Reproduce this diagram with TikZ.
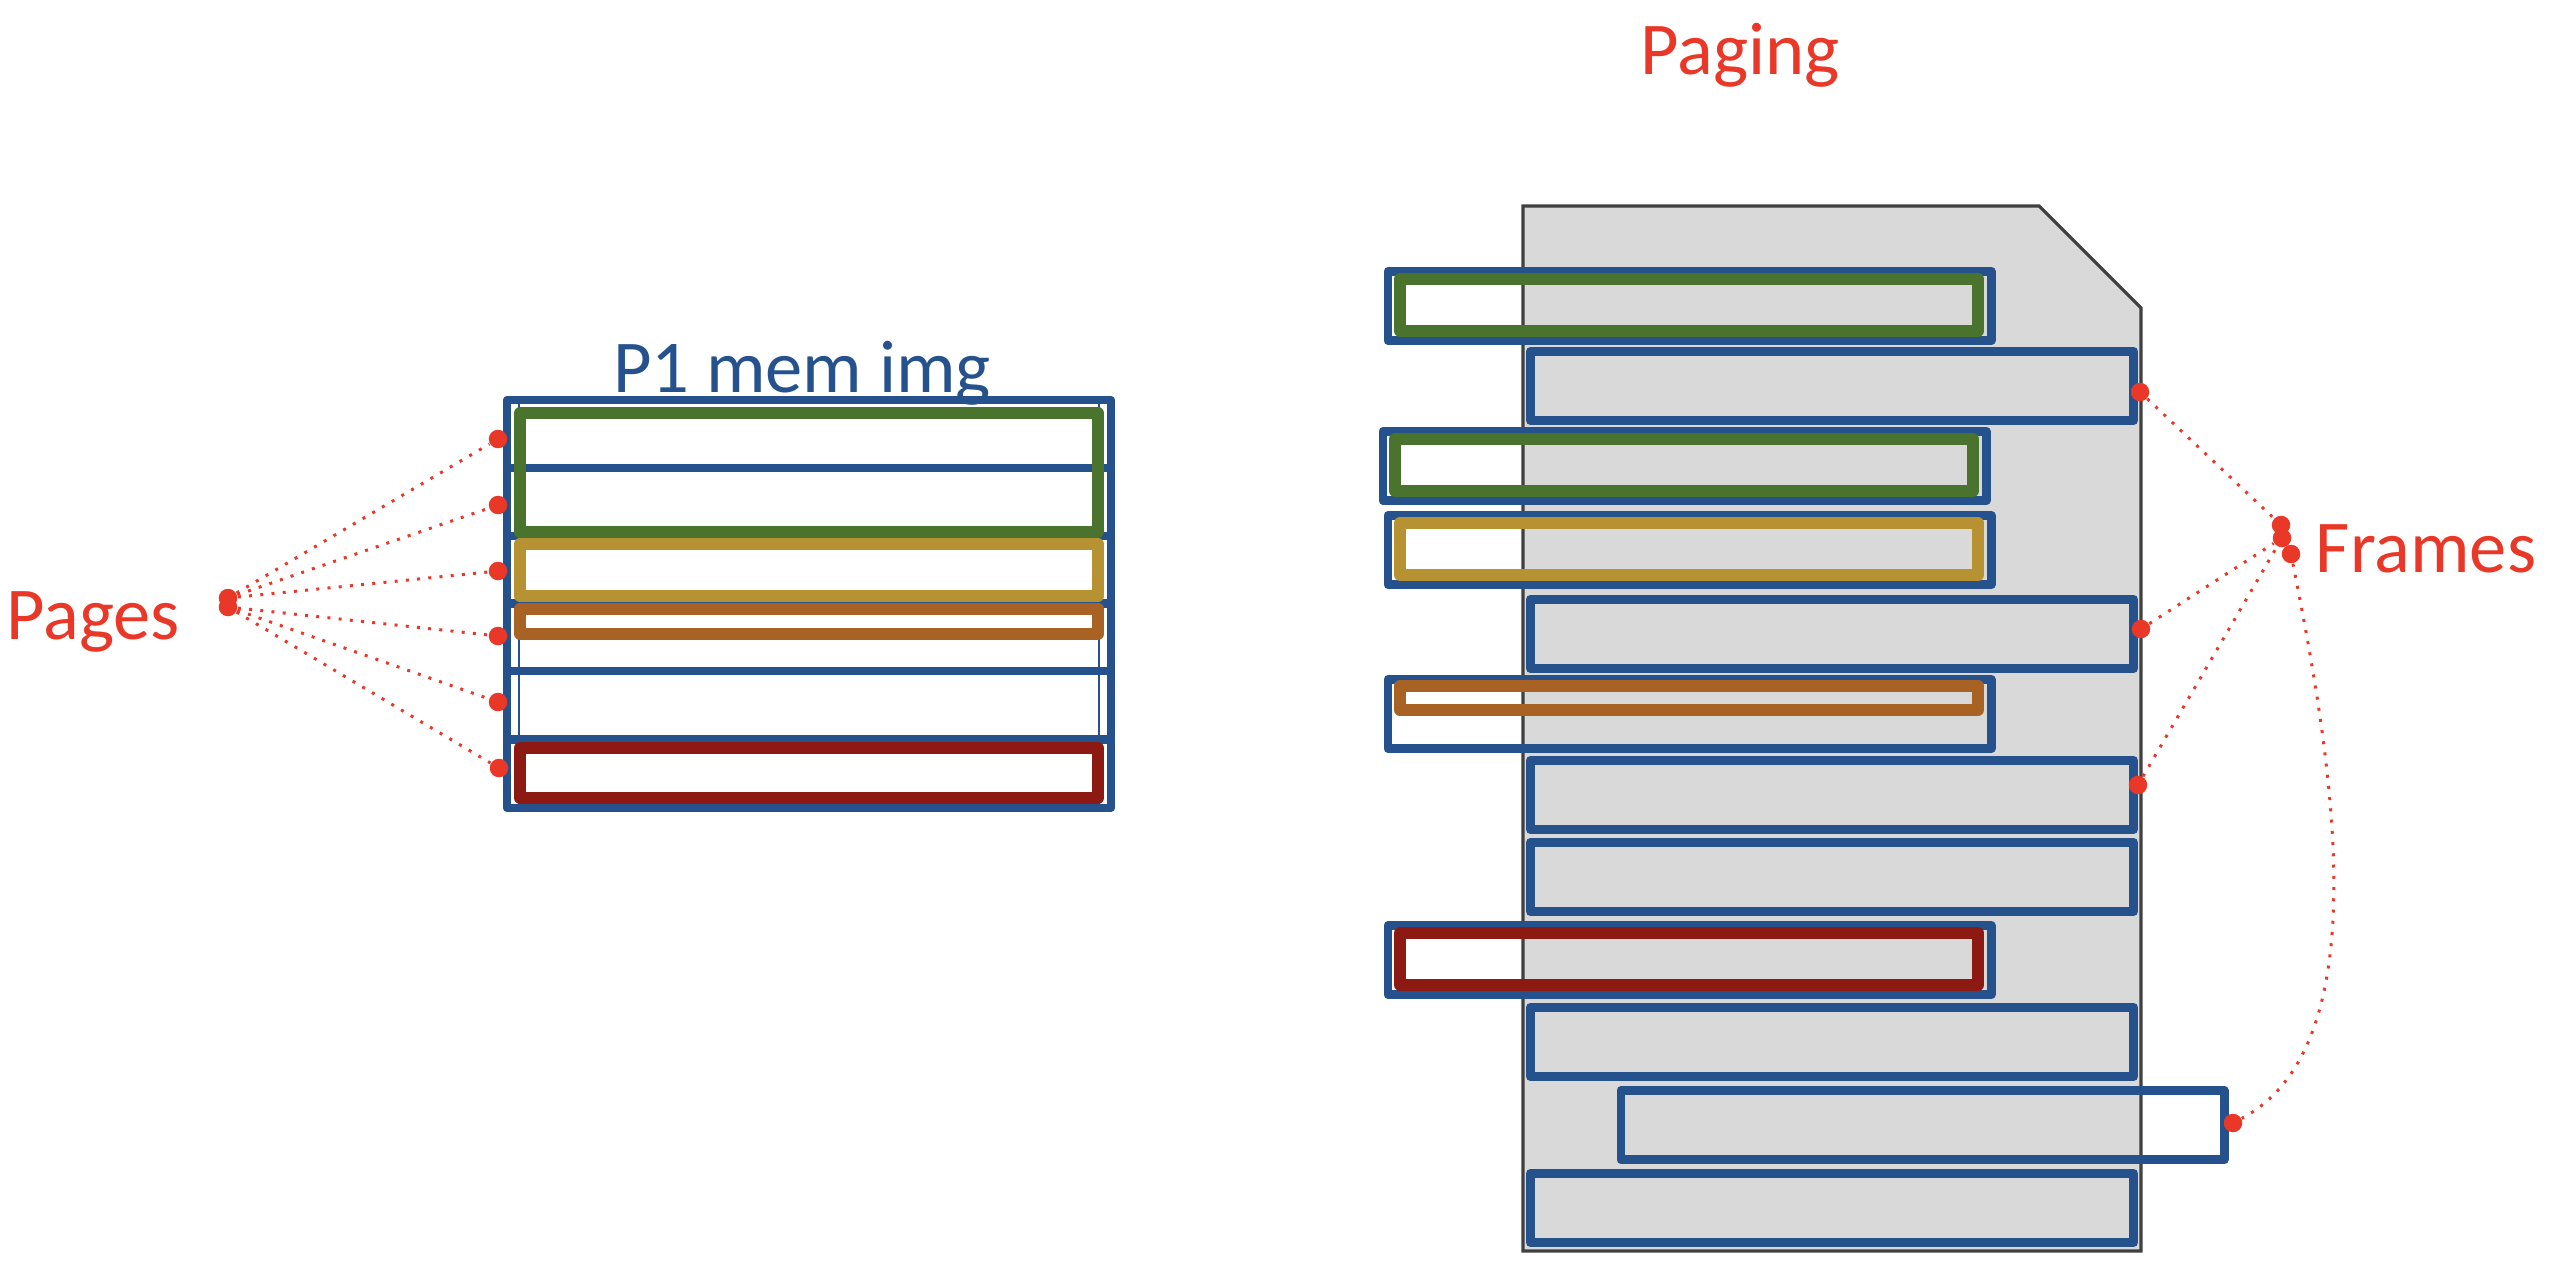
\documentclass[tikz,border=0pt]{standalone}
\usepackage{fontspec}
\setmainfont{Carlito}
\usepackage{tikz}

\definecolor{memblue}{RGB}{37,82,141}
\definecolor{pggreen}{RGB}{74,116,45}
\definecolor{pggold}{RGB}{183,146,50}
\definecolor{pgbrown}{RGB}{168,98,36}
\definecolor{pgred}{RGB}{140,26,19}
\definecolor{lblred}{RGB}{233,56,40}
\definecolor{diskgray}{RGB}{217,217,217}
\definecolor{diskedge}{RGB}{64,64,64}

\begin{document}
\begin{tikzpicture}[x=0.01cm,y=-0.01cm,
                    framebox/.style={draw=memblue,line width=2.45pt,line join=round,inner sep=0pt,
                                     minimum width=6.03cm,minimum height=0.695cm},
                    rowbox/.style={draw=memblue,line width=2.3pt,line join=round,inner sep=0pt,
                                   minimum width=6.04cm,minimum height=0.68cm},
                    pagebox/.style={line width=3.25pt,line join=round,inner sep=0pt,
                                    minimum width=5.78cm,minimum height=0.52cm},
                    reddot/.style={circle,fill=lblred,inner sep=0pt,minimum size=0.185cm},
                    dotlink/.style={draw=lblred,line width=0.85pt,dash pattern=on 0.85pt off 2.35pt},
                    lbl/.style={font=\fontsize{21.2}{25}\selectfont,inner sep=0pt}]

  \useasboundingbox (0,0) rectangle (2554,1260);

  \draw[fill=diskgray,draw=diskedge,line width=0.9pt]
    (1523,206) -- (2039,206) -- (2141,308) -- (2141,1251) -- (1523,1251) -- cycle;

  \node[framebox] (f1) at (1689.5,306) {};
  \node[framebox] (f2) at (1832,386) {};
  \node[framebox] (f3) at (1684.5,466) {};
  \node[framebox] (f4) at (1689.5,550) {};
  \node[framebox] (f5) at (1832,634) {};
  \node[framebox] (f6) at (1689.5,714) {};
  \node[framebox] (f7) at (1832,795) {};
  \node[framebox] (f8) at (1832,877) {};
  \node[framebox] (f9) at (1689.5,960) {};
  \node[framebox] (f10) at (1832,1042) {};
  \node[framebox] (f11) at (1922.5,1125) {};
  \node[framebox] (f12) at (1832,1208) {};

  \node[pagebox,draw=pggreen] (fg1) at (1689,305) {};
  \node[pagebox,draw=pggreen] (fg3) at (1684,465) {};
  \node[pagebox,draw=pggold] (fy) at (1689,549) {};
  \node[pagebox,draw=pgbrown,minimum height=0.24cm] (fb) at (1689,698) {};
  \node[pagebox,draw=pgred] (fr) at (1689,959) {};

  \node[rowbox] (r1) at (809,434) {};
  \node[rowbox] (r2) at (809,502) {};
  \node[rowbox] (r3) at (809,570) {};
  \node[rowbox] (r4) at (809,637) {};
  \node[rowbox] (r5) at (809,705) {};
  \node[rowbox] (r6) at (809,774) {};
  \draw[memblue,line width=0.6pt] (519,400) -- (519,808) (1099,400) -- (1099,808);

  \node[pagebox,draw=pggreen,minimum height=1.19cm] (lg) at (809,472.5) {};
  \node[pagebox,draw=pggold] (ly) at (809,570) {};
  \node[pagebox,draw=pgbrown,minimum height=0.25cm] (lb) at (809,621.5) {};
  \node[pagebox,draw=pgred,minimum height=0.50cm] (lr) at (809,773) {};

  \node[lbl,text=memblue,anchor=base] (memimg) at (802,392) {P1 mem img};
  \node[lbl,text=lblred,anchor=base] (pages) at (93,639) {Pages};
  \node[lbl,text=lblred,anchor=base] (paging) at (1740,74) {Paging};
  \node[lbl,text=lblred,anchor=base] (frames) at (2426,572) {Frames};

  \node[reddot] (pga) at (228,598) {};
  \node[reddot] (pgb) at (228,607) {};
  \node[reddot] (p1) at (498,439) {};
  \node[reddot] (p2) at (498,505) {};
  \node[reddot] (p3) at (498,571) {};
  \node[reddot] (p4) at (498,636) {};
  \node[reddot] (p5) at (498,702) {};
  \node[reddot] (p6) at (499,768) {};

  \node[reddot] (fa) at (2140,392) {};
  \node[reddot] (fbd) at (2141,629) {};
  \node[reddot] (fc) at (2138,785) {};
  \node[reddot] (fd) at (2233,1123) {};
  \node[reddot] (h1) at (2281,525) {};
  \node[reddot] (h2) at (2282,538) {};
  \node[reddot] (h3) at (2291,554) {};

  \draw[dotlink]
  	(pga) edge (p1)
  	(pga) edge (p2)
  	(pga) edge (p3)
  	(pgb) edge (p4)
  	(pgb) edge (p5)
  	(pgb) edge (p6)

  	(fa) edge (h1)
  	(fbd) edge (h2)
  	(fc) edge (h2)
  	;
  \draw[dotlink] (h3) .. controls (2332,760) and (2380,1045) .. (fd);
\end{tikzpicture}
\end{document}
